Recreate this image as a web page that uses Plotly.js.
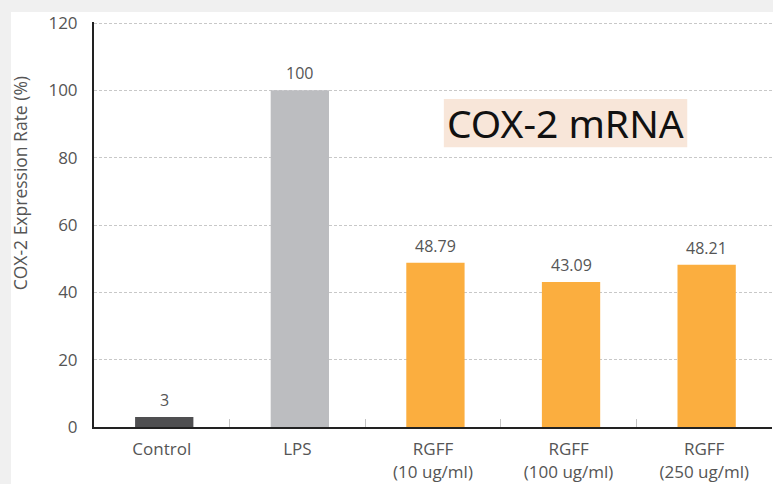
<!DOCTYPE html>
<html>
<head>
<meta charset="utf-8">
<script src="https://cdn.plot.ly/plotly-3.0.1.min.js"></script>
<style>
  html, body { margin: 0; padding: 0; background: #f0f0f0; width: 773px; height: 484px; overflow: hidden; }
  #chart { position: absolute; left: 0; top: 0; width: 773px; height: 484px; }
</style>
</head>
<body>
<div id="chart"></div>
<script>
const categories = ["Control", "LPS", "RGFF<br>(10 ug/ml)", "RGFF<br>(100 ug/ml)", "RGFF<br>(250 ug/ml)"];
const values = [3, 100, 48.79, 43.09, 48.21];
const valueLabels = ["3", "100", "48.79", "43.09", "48.21"];
const barColors = ["#4f4f51", "#bcbdc0", "#fbae3f", "#fbae3f", "#fbae3f"];
const yTicks = [0, 20, 40, 60, 80, 100, 120];
const chartTitle = "COX-2 mRNA";
const yTitle = "COX-2 Expression Rate (%)";

const font = "'Open Sans', 'Noto Sans', sans-serif";

const trace = {
  type: "bar",
  x: categories,
  y: values,
  width: 0.43,
  offset: -0.197,
  marker: { color: barColors },
  hoverinfo: "none"
};

const annotations = categories.map((c, i) => ({
  x: c, y: values[i], xref: "x", yref: "y",
  text: valueLabels[i], showarrow: false,
  xshift: 2.5,
  yanchor: "middle", yshift: 17,
  font: { family: font, size: 16, color: "#555" }
}));

annotations.push({
  xref: "paper", yref: "paper", x: 0.696, y: 0.751,
  xanchor: "center", yanchor: "middle",
  text: chartTitle, showarrow: false,
  font: { family: "'Noto Sans', sans-serif", size: 39, color: "#111" }
});

annotations.push({
  xref: "paper", yref: "paper", x: -0.109, y: 0.602,
  xanchor: "center", yanchor: "middle",
  text: yTitle, showarrow: false, textangle: -90,
  font: { family: font, size: 17.5, color: "#555" }
});

const shapes = [
  {
    type: "rect", xref: "paper", yref: "paper",
    x0: -0.1224, x1: 1.02, y0: -0.16, y1: 1.0247,
    fillcolor: "#ffffff", line: { width: 0 }, layer: "below"
  },
  {
    type: "rect", xref: "paper", yref: "paper",
    x0: 0.516, x1: 0.875, y0: 0.691, y1: 0.810,
    fillcolor: "#f8e6d9", line: { width: 0 }, layer: "below"
  }
];

const layout = {
  width: 773, height: 484,
  margin: { l: 94, r: 1, t: 22, b: 57 },
  paper_bgcolor: "#f0f0f0",
  plot_bgcolor: "rgba(0,0,0,0)",
  showlegend: false,
  font: { family: font, color: "#555" },
  xaxis: {
    type: "category",
    range: [-0.5, 4.5],
    showline: true, linecolor: "#222", linewidth: 2,
    ticks: "inside", tickson: "boundaries", ticklen: 8, tickcolor: "#c4c4c4", tickwidth: 1,
    ticklabelstandoff: 6,
    tickfont: { family: font, size: 17, color: "#555" },
    showgrid: false, zeroline: false, fixedrange: true
  },
  yaxis: {
    range: [0, 120.3],
    tickvals: yTicks,
    ticktext: yTicks.map(String),
    showline: true, linecolor: "#222", linewidth: 2,
    ticks: "", ticklabelstandoff: 11, ticklabeloverflow: "allow",
    tickfont: { family: font, size: 17, color: "#555" },
    showgrid: true, gridcolor: "#c8c8c8", griddash: "3px,2px", gridwidth: 1,
    zeroline: false, fixedrange: true
  },
  shapes: shapes,
  annotations: annotations
};

Plotly.newPlot("chart", [trace], layout, { displayModeBar: false, staticPlot: true });
</script>
</body>
</html>
